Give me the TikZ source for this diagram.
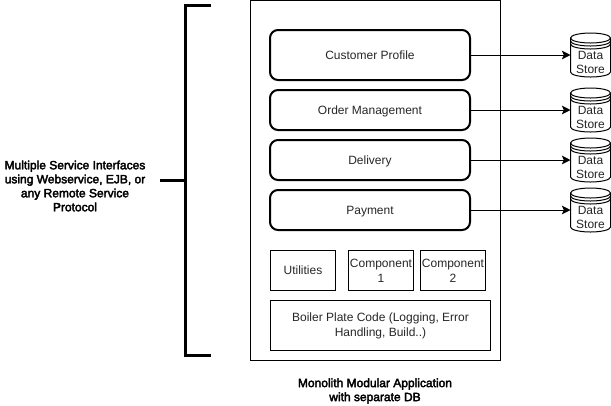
\documentclass[tikz,border=0pt]{standalone}
\usepackage{fontspec}
\setmainfont{Liberation Sans}
\newfontfamily\fakebold[FakeBold=3]{Liberation Sans}
\usetikzlibrary{arrows.meta}
\newcommand{\storeshape}[1]{%
  \draw[storeline,fill=white]
    (#1.north west) ++(0,5) -- ++(0,34)
    arc[start angle=180,end angle=360,x radius=20*0.75pt,y radius=5*0.75pt]
    -- ++(0,-34)
    arc[start angle=0,end angle=180,x radius=20*0.75pt,y radius=5*0.75pt] -- cycle;
  \draw[storeline] (#1.north west) ++(0,5)
    arc[start angle=180,end angle=360,x radius=20*0.75pt,y radius=5*0.75pt];
  \draw[storeline] (#1.north west) ++(0,8)
    arc[start angle=180,end angle=360,x radius=20*0.75pt,y radius=5*0.75pt];
  \draw[storeline] (#1.north west) ++(0,11)
    arc[start angle=180,end angle=360,x radius=20*0.75pt,y radius=5*0.75pt];
  \node[storetext] at ([yshift=-7*0.75pt]#1.center) {Data\\Store};
}
\tikzset{
  x=0.75pt,y=-0.75pt,
  every node/.style={font=\fontsize{9}{11.25}\selectfont,text=black!85,inner sep=0pt,outer sep=0pt},
  outerbox/.style={draw=black,line width=0.75pt,minimum width=187.5pt,minimum height=270pt,anchor=north west},
  service/.style={draw=black,line width=1.5pt,rounded corners=6pt,minimum width=150pt,anchor=north west,text height=7.5pt,text depth=1.3pt},
  plainbox/.style={draw=black,line width=0.75pt,anchor=north west,align=center},
  storeanchor/.style={minimum width=30pt,minimum height=33pt,anchor=north west},
  storeline/.style={draw=black,line width=0.75pt},
  storetext/.style={align=center,font=\fontsize{9}{10.5}\selectfont,text=black!85},
  link/.style={draw=black,line width=0.75pt,-{Stealth[length=6.5pt,width=6.5pt,inset=1.5pt]}},
  brace/.style={draw=black,line width=2.25pt,line cap=butt,line join=miter},
  boldtext/.style={align=center,text=black,font=\fakebold\fontsize{9}{10.5}\selectfont},
}
\begin{document}
\begin{tikzpicture}
\useasboundingbox (0,0) rectangle (611,405);
\node[outerbox] (app) at (250.5,0.5) {};
\node[service,minimum height=37.5pt] (profile) at (270,30) {Customer Profile};
\node[service,minimum height=30pt] (order) at (270,90) {Order Management};
\node[service,minimum height=30pt] (delivery) at (270,140) {Delivery};
\node[service,minimum height=30pt] (payment) at (270,190) {Payment};
\node[plainbox,minimum width=48.75pt,minimum height=30pt] (util) at (270.5,250.5) {Utilities};
\node[plainbox,minimum width=48.75pt,minimum height=30pt] (comp1) at (348.5,250.5) {Component\\1};
\node[plainbox,minimum width=48.75pt,minimum height=30pt] (comp2) at (420.5,250.5) {Component\\2};
\node[plainbox,minimum width=165pt,minimum height=37.5pt] (boiler) at (270.5,300.5) {Boiler Plate Code (Logging, Error\\Handling, Build..)};
\node[storeanchor] (s1) at (570.5,33) {};
\node[storeanchor] (s2) at (570.5,88) {};
\node[storeanchor] (s3) at (570.5,138) {};
\node[storeanchor] (s4) at (570.5,188) {};
\storeshape{s1}\storeshape{s2}\storeshape{s3}\storeshape{s4}
\draw[link] (profile.east) -- (s1.west);
\draw[link] (order.east) -- (s2.west);
\draw[link] (delivery.east) -- (s3.west);
\draw[link] (payment.east) -- (s4.west);
\coordinate (bt) at (211,5);
\coordinate (bb) at (211,355);
\coordinate (bm) at (185,180);
\coordinate (bs) at (160,180);
\draw[brace] (bt) -- (185,5) -- (185,355) -- (bb);
\draw[brace] (bm) -- (bs);
\node[boldtext] (iface) at (75,186) {Multiple Service Interfaces\\using Webservice, EJB, or\\any Remote Service\\Protocol};
\node[boldtext] (title) at (375,391) {Monolith Modular Application\\with separate DB};
\end{tikzpicture}
\end{document}
